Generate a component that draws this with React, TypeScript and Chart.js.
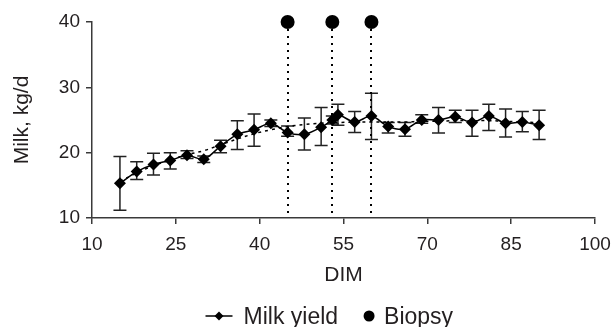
import React, { useEffect, useRef } from "react";
import { Chart, registerables } from "chart.js";

Chart.register(...registerables);

const days = [15, 18, 21, 24, 27, 30, 33, 36, 39, 42, 45, 48, 51, 53, 54, 57, 60, 63, 66, 69, 72, 75, 78, 81, 84, 87, 90];
const milkYield = [15.3, 17.1, 18.2, 18.8, 19.6, 19.0, 21.0, 22.8, 23.5, 24.5, 23.1, 22.8, 23.9, 25.0, 25.8, 24.7, 25.6, 24.0, 23.6, 25.0, 25.0, 25.5, 24.6, 25.6, 24.5, 24.7, 24.2];
const errLow = [11.2, 15.9, 16.6, 17.5, 19.1, 18.5, 20.0, 20.5, 21.0, 24.0, 22.5, 20.4, 21.1, 24.4, 24.2, 23.1, 22.0, 23.0, 22.5, 24.5, 23.0, 24.6, 22.5, 23.4, 22.4, 23.2, 22.0];
const errHigh = [19.4, 18.6, 19.9, 20.0, 20.3, 19.5, 21.9, 24.9, 25.9, 25.0, 24.1, 25.3, 26.9, 25.6, 27.4, 26.3, 29.1, 24.6, 24.6, 25.8, 26.9, 26.5, 26.5, 27.4, 26.7, 26.3, 26.5];
const trend = [15.6, 16.9, 18.0, 18.9, 19.7, 20.3, 21.2, 22.1, 22.9, 23.5, 24.0, 24.3, 24.5, 24.6, 24.6, 24.7, 24.7, 24.7, 24.7, 24.8, 24.8, 24.9, 24.9, 24.9, 24.8, 24.7, 24.6];
const biopsyDays = [45, 53, 60];
const biopsyLevel = [40, 40, 40];
const xTicks = [10, 25, 40, 55, 70, 85, 100];
const yTicks = [10, 20, 30, 40];
const legendLabels = ["Milk yield", "Biopsy"];

const FONT = "'Liberation Sans', Arial, Helvetica, sans-serif";
const TEXT = "#231f20";
const AXIS = "#3a3a3a";

const errorBarsPlugin = {
  id: "errorBars",
  beforeDatasetsDraw(chart: any) {
    const { ctx, scales } = chart;
    const x = scales.x;
    const y = scales.y;
    ctx.save();
    ctx.strokeStyle = "#222";
    ctx.lineWidth = 1.5;
    const cap = 6.5;
    days.forEach((d, i) => {
      const px = x.getPixelForValue(d);
      const yl = y.getPixelForValue(errLow[i]);
      const yh = y.getPixelForValue(errHigh[i]);
      ctx.beginPath();
      ctx.moveTo(px, yl);
      ctx.lineTo(px, yh);
      ctx.moveTo(px - cap, yl);
      ctx.lineTo(px + cap, yl);
      ctx.moveTo(px - cap, yh);
      ctx.lineTo(px + cap, yh);
      ctx.stroke();
    });
    ctx.strokeStyle = "#000";
    ctx.lineWidth = 2;
    ctx.setLineDash([2, 5]);
    biopsyDays.forEach((d, i) => {
      const px = Math.round(x.getPixelForValue(d));
      ctx.beginPath();
      ctx.moveTo(px, y.getPixelForValue(biopsyLevel[i]));
      ctx.lineTo(px, y.bottom);
      ctx.stroke();
    });
    ctx.restore();
  },
};

const legendPlugin = {
  id: "customLegend",
  afterDraw(chart: any) {
    const { ctx, chartArea } = chart;
    const baseY = chart.height - 3;
    const midY = baseY - 8;
    let cx = (chartArea.left + chartArea.right) / 2 - 138;
    ctx.save();
    ctx.font = `23px ${FONT}`;
    ctx.textBaseline = "alphabetic";
    ctx.textAlign = "left";
    ctx.strokeStyle = "#000";
    ctx.lineWidth = 1.5;
    ctx.beginPath();
    ctx.moveTo(cx, midY);
    ctx.lineTo(cx + 27, midY);
    ctx.stroke();
    ctx.fillStyle = "#000";
    ctx.beginPath();
    ctx.moveTo(cx + 13.5, midY - 4.5);
    ctx.lineTo(cx + 18, midY);
    ctx.lineTo(cx + 13.5, midY + 4.5);
    ctx.lineTo(cx + 9, midY);
    ctx.closePath();
    ctx.fill();
    cx += 38;
    ctx.fillStyle = TEXT;
    ctx.fillText(legendLabels[0], cx, baseY);
    cx += ctx.measureText(legendLabels[0]).width + 31;
    ctx.fillStyle = "#000";
    ctx.beginPath();
    ctx.arc(cx, midY, 5.5, 0, Math.PI * 2);
    ctx.fill();
    cx += 15;
    ctx.fillStyle = TEXT;
    ctx.fillText(legendLabels[1], cx, baseY);
    ctx.restore();
  },
};

export default function App() {
  const ref = useRef<HTMLCanvasElement>(null);

  useEffect(() => {
    document.body.style.margin = "0";
    const chart = new Chart(ref.current!, {
      type: "line",
      data: {
        datasets: [
          {
            label: "Milk yield",
            data: days.map((d, i) => ({ x: d, y: milkYield[i] })),
            borderColor: "#000",
            backgroundColor: "#000",
            borderWidth: 1.5,
            pointStyle: "rectRot",
            pointRadius: 6,
            pointBorderWidth: 0,
            tension: 0.3,
            order: 1,
          },
          {
            label: "Trend",
            data: days.map((d, i) => ({ x: d, y: trend[i] })),
            borderColor: "#000",
            borderWidth: 1.5,
            borderDash: [3, 4],
            pointRadius: 0,
            tension: 0.4,
            order: 2,
          },
          {
            label: "Biopsy",
            data: biopsyDays.map((d, i) => ({ x: d, y: biopsyLevel[i] })),
            showLine: false,
            borderColor: "#000",
            backgroundColor: "#000",
            pointStyle: "circle",
            pointRadius: 7,
            pointBorderWidth: 0,
            clip: false as any,
            order: 0,
          },
        ],
      },
      options: {
        animation: false,
        responsive: true,
        maintainAspectRatio: false,
        layout: { padding: { top: 22, right: 21, left: 9, bottom: 39 } },
        plugins: {
          tooltip: { enabled: false },
          legend: { display: false },
        },
        scales: {
          x: {
            type: "linear",
            min: 10,
            max: 100,
            afterBuildTicks: (s: any) => {
              s.ticks = xTicks.map((v) => ({ value: v }));
            },
            ticks: { color: TEXT, font: { family: FONT, size: 19 }, padding: 9, maxRotation: 0 },
            grid: { display: true, drawOnChartArea: false, drawTicks: true, tickLength: 6, color: AXIS, lineWidth: 1.5 },
            border: { display: true, color: AXIS, width: 1.5 },
            title: { display: true, text: "DIM", color: TEXT, font: { family: FONT, size: 21 }, padding: { top: 0, bottom: 0.5 } },
            afterFit: (s: any) => {
              s.height = 70;
              s.paddingLeft = 0;
              s.paddingRight = 0;
            },
          },
          y: {
            type: "linear",
            min: 10,
            max: 40,
            afterBuildTicks: (s: any) => {
              s.ticks = yTicks.map((v) => ({ value: v }));
            },
            ticks: { color: TEXT, font: { family: FONT, size: 19 }, padding: 6 },
            grid: { display: true, drawOnChartArea: false, drawTicks: true, tickLength: 6, color: AXIS, lineWidth: 1.5 },
            border: { display: true, color: AXIS, width: 1.5 },
            title: { display: true, text: "Milk, kg/d", color: TEXT, font: { family: FONT, size: 21 }, padding: { top: 1, bottom: 0 } },
            afterFit: (s: any) => {
              s.width = 83;
              s.paddingTop = 0;
              s.paddingBottom = 0;
            },
          },
        },
      },
      plugins: [errorBarsPlugin, legendPlugin],
    });
    return () => chart.destroy();
  }, []);

  return (
    <div style={{ position: "absolute", left: 0, top: 0, width: 616, height: 327 }}>
      <canvas ref={ref} />
    </div>
  );
}
